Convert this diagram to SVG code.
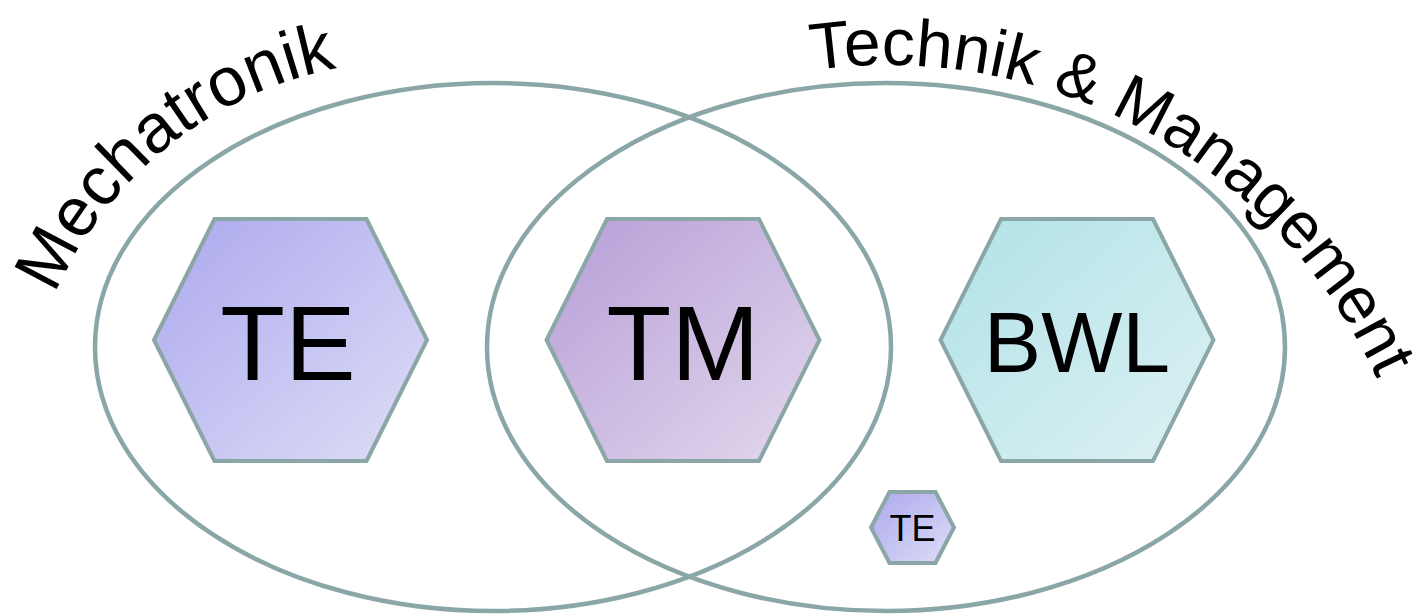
<svg xmlns="http://www.w3.org/2000/svg" xmlns:xlink="http://www.w3.org/1999/xlink" width="1420" height="614" viewBox="0 0 1420 614">
<style>
.ring{fill:none;stroke:#8aa6a6;stroke-width:4.5}
.hex{stroke:#8aa6a6;stroke-width:4;stroke-linejoin:miter}
.lbl{font-family:"Liberation Sans",Arial,sans-serif;fill:#000;text-anchor:middle}
.arc{font-family:"Liberation Sans",Arial,sans-serif;fill:#000}
</style>
<defs>
<linearGradient id="gTE" x1="0" y1="0" x2="1" y2="1"><stop offset="0" stop-color="#aca8ee"/><stop offset="1" stop-color="#dedef6"/></linearGradient>
<linearGradient id="gTM" x1="0" y1="0" x2="1" y2="1"><stop offset="0" stop-color="#b69ed7"/><stop offset="1" stop-color="#e2d8ed"/></linearGradient>
<linearGradient id="gBWL" x1="0" y1="0" x2="1" y2="1"><stop offset="0" stop-color="#b0e2e7"/><stop offset="1" stop-color="#ddf1f3"/></linearGradient>
<path id="pMech" d="M 55 294.3 A 389 389 0 0 1 544.5 84.5"/>
<path id="pTM" d="M 812 70.2 A 540 540 0 0 1 1426.7 605"/>
</defs>
<rect width="1420" height="614" fill="#fff"/>
<g id="ring-mechatronik"><ellipse class="ring" cx="493" cy="347" rx="398" ry="264"/>
<text class="arc" font-size="69"><textPath xlink:href="#pMech" href="#pMech">Mechatronik</textPath></text></g>
<g id="ring-tm"><ellipse class="ring" cx="886" cy="347" rx="399" ry="264"/>
<text class="arc" font-size="66"><textPath xlink:href="#pTM" href="#pTM">Technik &amp; Management</textPath></text></g>
<g id="connectors"></g>
<g id="node-te"><polygon class="hex" fill="url(#gTE)" points="214.5,219 366.5,219 427,340 366.5,461 214.5,461 154,340"/><text class="lbl" x="288" y="380" font-size="106">TE</text></g>
<g id="node-tm"><polygon class="hex" fill="url(#gTM)" points="607,219 759,219 819.5,340 759,461 607,461 546.5,340"/><text class="lbl" x="683" y="380" font-size="106">TM</text></g>
<g id="node-bwl"><polygon class="hex" fill="url(#gBWL)" points="1001,219 1153,219 1213.5,340 1153,461 1001,461 940.5,340"/><text class="lbl" x="1077" y="372" font-size="86">BWL</text></g>
<g id="node-te-small"><polygon class="hex" fill="url(#gTE)" points="889.5,492 935.5,492 954,527.5 935.5,563 889.5,563 871,527.5"/><text class="lbl" x="912.5" y="541" font-size="36">TE</text></g>
</svg>
